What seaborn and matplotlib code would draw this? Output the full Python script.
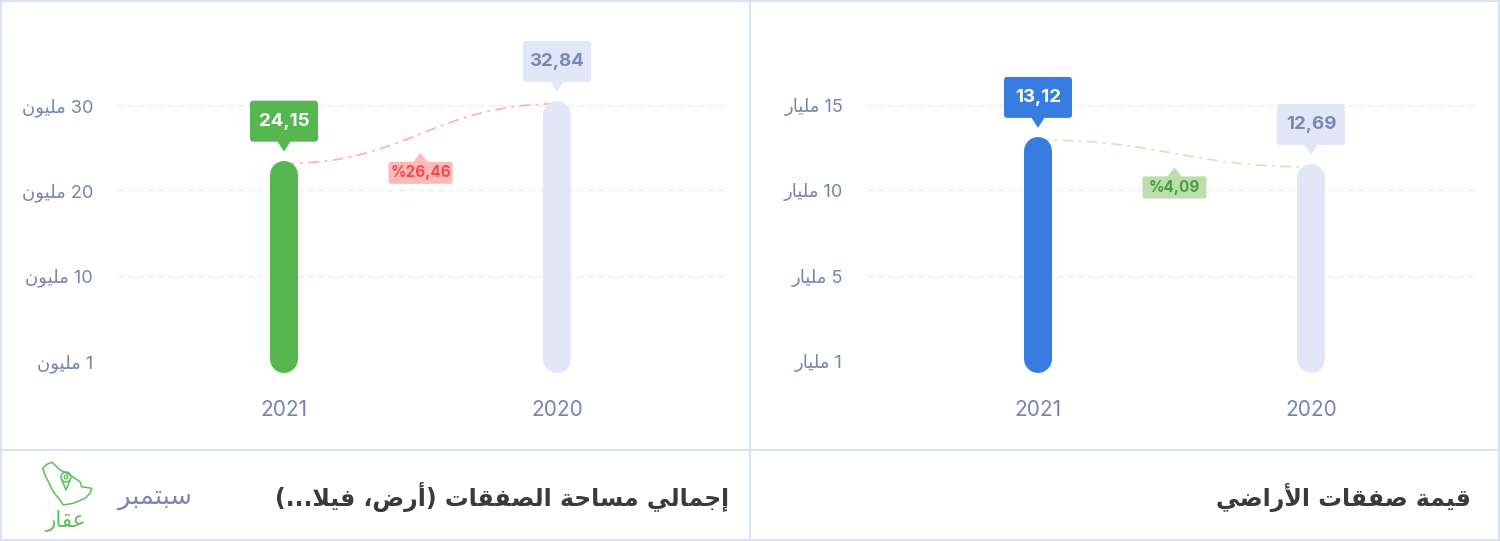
"""Real-estate transactions card: two rounded-bar comparisons (2021 vs 2020)."""

import matplotlib

matplotlib.use("Agg")
import matplotlib.pyplot as plt
import matplotlib.transforms as mtransforms
import numpy as np
import seaborn as sns
from matplotlib.patches import Circle, FancyBboxPatch, PathPatch, Polygon
from matplotlib.path import Path

# ---------------------------------------------------------------- data
years = ["2021", "2020"]

area_values = [24.15, 32.84]            # total area of deals (million)
area_labels = ["24,15", "32,84"]
area_change = "%26,46"
area_ticks = [0, 10, 20, 30]
area_tick_labels = ["1", "10", "20", "30"]
area_unit = "مليون"
area_title = "إجمالي مساحة الصفقات (أرض، فيلا...)"

land_values = [13.12, 12.69]            # value of land deals (billion)
land_labels = ["13,12", "12,69"]
land_change = "%4,09"
land_ticks = [0, 5, 10, 15]
land_tick_labels = ["1", "5", "10", "15"]
land_unit = "مليار"
land_title = "قيمة صفقات الأراضي"

month = "سبتمبر"
brand = "عقار"

# ---------------------------------------------------------------- colours
GREEN = "#56b64f"
BLUE = "#377ddf"
PALE = "#e2e7f8"
PALE_TEXT = "#7a87b2"
TICK = "#7684ae"
GRID = "#e2e8f2"
BORDER = "#d8e3f3"
TITLE = "#3a3a3a"

# ---------------------------------------------------------------- arabic shaping
AR_FORMS = {
    "\u0627": ("\uFE8D", "\uFE8E", None, None),
    "\u0623": ("\uFE83", "\uFE84", None, None),
    "\u0625": ("\uFE87", "\uFE88", None, None),
    "\u0628": ("\uFE8F", "\uFE90", "\uFE91", "\uFE92"),
    "\u0629": ("\uFE93", "\uFE94", None, None),
    "\u062A": ("\uFE95", "\uFE96", "\uFE97", "\uFE98"),
    "\u062C": ("\uFE9D", "\uFE9E", "\uFE9F", "\uFEA0"),
    "\u062D": ("\uFEA1", "\uFEA2", "\uFEA3", "\uFEA4"),
    "\u0631": ("\uFEAD", "\uFEAE", None, None),
    "\u0633": ("\uFEB1", "\uFEB2", "\uFEB3", "\uFEB4"),
    "\u0635": ("\uFEB9", "\uFEBA", "\uFEBB", "\uFEBC"),
    "\u0636": ("\uFEBD", "\uFEBE", "\uFEBF", "\uFEC0"),
    "\u0639": ("\uFEC9", "\uFECA", "\uFECB", "\uFECC"),
    "\u0641": ("\uFED1", "\uFED2", "\uFED3", "\uFED4"),
    "\u0642": ("\uFED5", "\uFED6", "\uFED7", "\uFED8"),
    "\u0644": ("\uFEDD", "\uFEDE", "\uFEDF", "\uFEE0"),
    "\u0645": ("\uFEE1", "\uFEE2", "\uFEE3", "\uFEE4"),
    "\u0646": ("\uFEE5", "\uFEE6", "\uFEE7", "\uFEE8"),
    "\u0648": ("\uFEED", "\uFEEE", None, None),
    "\u064A": ("\uFEF1", "\uFEF2", "\uFEF3", "\uFEF4"),
}
LAM_ALEF = {
    "\u0627": ("\uFEFB", "\uFEFC"),
    "\u0623": ("\uFEF7", "\uFEF8"),
    "\u0625": ("\uFEF9", "\uFEFA"),
}


def ar(text):
    """Join Arabic letters into presentation forms and return visual order."""
    out = []
    i, n = 0, len(text)
    while i < n:
        ch = text[i]
        if ch not in AR_FORMS:
            out.append(ch)
            i += 1
            continue
        prev = AR_FORMS.get(text[i - 1]) if i > 0 else None
        joins_prev = prev is not None and prev[2] is not None
        if ch == "\u0644" and i + 1 < n and text[i + 1] in LAM_ALEF:
            out.append(LAM_ALEF[text[i + 1]][1 if joins_prev else 0])
            i += 2
            continue
        iso, fin, ini, med = AR_FORMS[ch]
        joins_next = ini is not None and i + 1 < n and text[i + 1] in AR_FORMS
        if joins_prev and joins_next:
            out.append(med)
        elif joins_prev:
            out.append(fin)
        elif joins_next:
            out.append(ini)
        else:
            out.append(iso)
        i += 1
    return "".join(out)[::-1].translate(str.maketrans("()", ")("))


# ---------------------------------------------------------------- figure
W, H = 1500, 541
sns.set_theme(style="white")
plt.rcParams["font.family"] = ["Inter", "DejaVu Sans"]
fig = plt.figure(figsize=(W / 100, H / 100), dpi=100)
PX = mtransforms.IdentityTransform()
CAP = 14  # half of the 28 px bar width


def panel(left_px, right_px, x0_px, values, labels, ticks, tick_labels, unit,
          bar_lim, bar_color, label_face, label_color, change, change_face,
          change_color, curve_color, change_drop):
    y0_px, y1_px = 361, 105
    ax = fig.add_axes([left_px / W, (H - y0_px) / H,
                       (right_px - left_px) / W, (y0_px - y1_px) / H])
    step = 273
    ax.set_xlim(-(x0_px - left_px) / step, (right_px - x0_px) / step)
    ax.set_ylim(ticks[0], ticks[-1])
    ax.set_yticks(ticks)
    ax.set_yticklabels([f"{ar(unit)} {t}" for t in tick_labels],
                       color=TICK, fontsize=13)
    ax.set_xticks(range(len(years)))
    ax.set_xticklabels(years, color=TICK, fontsize=15)
    ax.tick_params(axis="y", length=0, pad=18)
    ax.tick_params(axis="x", length=0, pad=28)
    ax.grid(axis="y", color=GRID, linestyle=(0, (4, 4)), linewidth=0.9)
    ax.grid(axis="x", visible=False)
    sns.despine(ax=ax, left=True, bottom=True)
    ax.patch.set_alpha(0)

    bars = ax.twinx()
    bars.set_ylim(*bar_lim)
    bars.set_yticks([])
    sns.despine(ax=bars, left=True, bottom=True, right=True)
    base = bar_lim[0] + 2 * (bar_lim[1] - bar_lim[0]) / (y0_px - y1_px)

    tops = []
    for i, v in enumerate(values):
        col = bar_color if i == 0 else PALE
        bars.plot([i, i], [base, v], color=col, lw=28 * 0.72,
                  solid_capstyle="round", zorder=3, clip_on=False)
        px, py = bars.transData.transform((i, v))
        top = py + CAP
        tops.append((px, top))
        face = label_face if i == 0 else PALE
        tcol = label_color if i == 0 else PALE_TEXT
        bars.add_patch(FancyBboxPatch((px - 34, top + 19), 68, 41,
                                      boxstyle="round,pad=0,rounding_size=3",
                                      transform=PX, fc=face, ec="none",
                                      zorder=5, clip_on=False))
        bars.add_patch(Polygon([(px - 7, top + 20), (px + 7, top + 20),
                                (px, top + 9)], closed=True, transform=PX,
                               fc=face, ec="none", zorder=5, clip_on=False))
        bars.text(px, top + 39, labels[i], transform=PX, ha="center",
                  va="center", fontsize=13.5, fontweight="bold", color=tcol,
                  zorder=6)

    # dash-dot connector between the two bar tops
    (xa, ya), (xb, yb) = tops
    ya, yb = ya - 3, yb - 3
    dx = xb - xa
    path = Path([(xa, ya), (xa + 0.45 * dx, ya), (xb - 0.45 * dx, yb), (xb, yb)],
                [Path.MOVETO, Path.CURVE4, Path.CURVE4, Path.CURVE4])
    ax.add_patch(PathPatch(path, transform=PX, fc="none", ec=curve_color,
                           lw=1.3, linestyle=(0, (6, 3, 1.5, 3)), zorder=2,
                           clip_on=False))

    # change badge
    cx = (xa + xb) / 2
    cy = (ya + yb) / 2 - change_drop
    bars.add_patch(FancyBboxPatch((cx - 32, cy - 11), 64, 22,
                                  boxstyle="round,pad=0,rounding_size=2",
                                  transform=PX, fc=change_face, ec="none",
                                  zorder=5, clip_on=False))
    bars.add_patch(Polygon([(cx - 8, cy + 10), (cx + 8, cy + 10),
                            (cx, cy + 20)], closed=True, transform=PX,
                           fc=change_face, ec="none", zorder=5, clip_on=False))
    bars.text(cx, cy, change, transform=PX, ha="center", va="center",
              fontsize=11, fontweight="bold", color=change_color, zorder=6)
    return ax


panel(118, 728, 284, area_values, area_labels, area_ticks, area_tick_labels,
      area_unit, (-2.97, 34.29), GREEN, GREEN, "white", area_change,
      "#ffb9b9", "#f24a4f", "#ffb4b4", 39)
panel(868, 1476, 1038, land_values, land_labels, land_ticks, land_tick_labels,
      land_unit, (9.78, 13.85), BLUE, BLUE, "white", land_change,
      "#badfab", "#4c9b3f", "#cfe8c3", 34)

# ---------------------------------------------------------------- frame
lw_border = 2 * 0.72
for xs, ys in [([0, W], [1, 1]), ([0, W], [H - 1, H - 1]), ([1, 1], [0, H]),
               ([W - 1, W - 1], [0, H]), ([750, 750], [0, H]),
               ([0, W], [H - 450, H - 450])]:
    fig.add_artist(plt.Line2D(xs, ys, transform=PX, color=BORDER,
                              lw=lw_border))

# ---------------------------------------------------------------- footer
fig.text(729, H - 497, ar(area_title), transform=PX, ha="right",
         va="center", fontsize=17, fontweight="bold", color=TITLE,
         family=["DejaVu Sans"])
fig.text(1471, H - 497, ar(land_title), transform=PX, ha="right",
         va="center", fontsize=17, fontweight="bold", color=TITLE,
         family=["DejaVu Sans"])
fig.text(192, H - 497, ar(month), transform=PX, ha="right", va="center",
         fontsize=18.5, color=PALE_TEXT, family=["DejaVu Sans"])

# logo: outline of the map with a location pin, brand name below
LOGO = "#5dbf5b"
outline = [(42.7, 468.3), (46.7, 464.3), (51.7, 462.3), (55, 465), (60, 470),
           (70, 475), (80, 481.7), (81.7, 486.7), (91.7, 488.3), (90, 493.3),
           (85, 498.3), (73.3, 503.3), (63.3, 505), (60, 500), (53.3, 491.7),
           (48.3, 481.7), (45, 475)]
fig.add_artist(Polygon([(x, H - y) for x, y in outline], closed=True,
                       transform=PX, fc="none", ec=LOGO, lw=1.1))
fig.add_artist(Circle((66, H - 477), 5, transform=PX, fc="none", ec=LOGO,
                      lw=1.1))
fig.add_artist(Circle((66, H - 477), 1.8, transform=PX, fc="none", ec=LOGO,
                      lw=1.0))
fig.add_artist(plt.Line2D([61.8, 66, 70.2], [H - 480, H - 490, H - 480],
                          transform=PX, color=LOGO, lw=1.1))
fig.text(66, H - 521, ar(brand), transform=PX, ha="center", va="center",
         fontsize=15.5, color=LOGO, family=["DejaVu Sans"])

fig.savefig("out.png", dpi=100, facecolor="white")
plt.close(fig)
